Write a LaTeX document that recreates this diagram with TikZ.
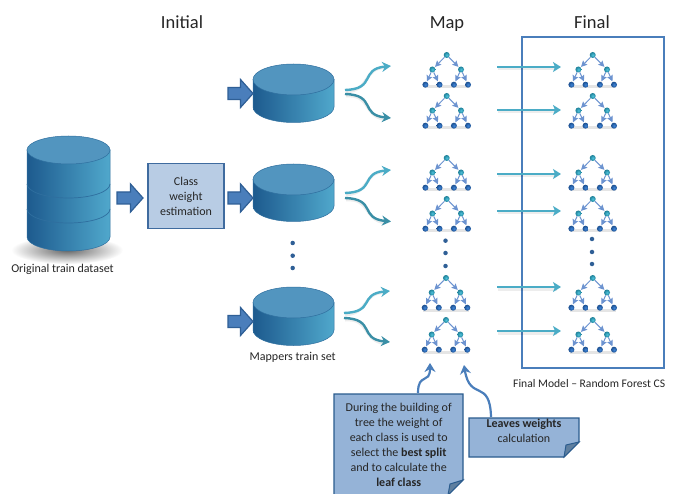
\documentclass[tikz,border=0pt]{standalone}
\usepackage{fontspec}
\setmainfont{Carlito}
\usetikzlibrary{arrows.meta,calc}
\definecolor{cylL}{HTML}{1D5A8E}
\definecolor{cylR}{HTML}{50A8CC}
\definecolor{cylT}{HTML}{5295BF}
\definecolor{cylE}{HTML}{2F6F9F}
\definecolor{blk}{HTML}{4A7EBB}
\definecolor{blkE}{HTML}{2F5F96}
\definecolor{boxF}{HTML}{B8CCE4}
\definecolor{noteF}{HTML}{95B3D7}
\definecolor{noteE}{HTML}{2B5C8E}
\definecolor{foldF}{HTML}{5F7F9F}
\definecolor{curA}{HTML}{4BACC6}
\definecolor{curB}{HTML}{3A8FA6}
\definecolor{treeE}{HTML}{6C93D0}
\definecolor{txt}{HTML}{262626}
\definecolor{rootI}{HTML}{4FC3DC}
\definecolor{rootO}{HTML}{1F8199}
\definecolor{leafI}{HTML}{3F86DA}
\definecolor{leafO}{HTML}{1C4F8F}
\tikzset{
  txtn/.style={inner sep=0pt,text=txt,font=\fontsize{12}{15}\selectfont,align=center},
  headn/.style={inner sep=0pt,text=txt,font=\fontsize{18.5}{22}\selectfont,anchor=base},
  rootn/.style={circle,inner sep=0pt,minimum size=6pt,inner color=rootI,outer color=rootO},
  leafn/.style={circle,inner sep=0pt,minimum size=6pt,inner color=leafI,outer color=leafO},
  tedge/.style={treeE,line width=1pt,shorten >=.5pt,-{Stealth[length=6pt,width=6pt,inset=1pt]}},
  dotn/.style={circle,inner sep=0pt,minimum size=4.5pt,fill=blkE},
  blockarrow/.style={draw=blkE,fill=blk,line width=1.2pt,line join=miter},
  softline/.style={black,opacity=.07,line width=3pt},
  cura/.style={curA,line width=2.4pt,-{Stealth[length=9pt,width=10pt,inset=3pt]}},
  curb/.style={curB,line width=2.4pt,-{Stealth[length=9pt,width=10pt,inset=3pt]}},
  straighta/.style={curA,line width=2.4pt,-{Stealth[length=8pt,width=10pt,inset=2pt]}},
  notecall/.style={blk,line width=2.2pt,-{Stealth[length=9pt,width=11pt,inset=3pt]}},
  notebody/.style={draw=noteE,fill=noteF,line width=1.2pt},
  foldp/.style={draw=noteE,fill=foldF,line width=1pt},
}
% \treeat{name}{x}{y of root}
\newcommand{\treeat}[3]{%
  \draw[black,opacity=.10,line width=3pt] (#2-23,#3+32) -- (#2+23,#3+32);
  \node[rootn] (#1-r) at (#2,#3) {};
  \node[rootn] (#1-a) at (#2-14.3,#3+14.5) {};
  \node[rootn] (#1-b) at (#2+14.3,#3+14.5) {};
  \node[leafn] (#1-1) at (#2-21.3,#3+29.7) {};
  \node[leafn] (#1-2) at (#2-7.2,#3+29.7) {};
  \node[leafn] (#1-3) at (#2+7.2,#3+29.7) {};
  \node[leafn] (#1-4) at (#2+21.3,#3+29.7) {};
  \draw[tedge] (#1-r) -- (#1-a);
  \draw[tedge] (#1-r) -- (#1-b);
  \draw[tedge] (#1-a) -- (#1-1);
  \draw[tedge] (#1-a) -- (#1-2);
  \draw[tedge] (#1-b) -- (#1-3);
  \draw[tedge] (#1-b) -- (#1-4);
}
% \cylat{name}{left}{right}{top centre y}{bottom centre y}{ry}
\newcommand{\cylat}[6]{%
  \pgfmathsetmacro{\rx}{(#3-#2)/2}%
  \path[left color=cylL,right color=cylR,draw=cylE,line width=.5pt]
    (#2,#4) -- (#2,#5) arc[start angle=180,end angle=360,x radius=\rx pt,y radius=#6 pt]
    -- (#3,#4) -- cycle;
  \path[fill=cylT,draw=cylE,line width=.5pt] ({(#2+#3)/2},#4) ellipse[x radius=\rx pt,y radius=#6 pt];
}
% \blockat{tip coordinate name}{tip x}{centre y}{length}
\newcommand{\blockat}[4]{%
  \coordinate (#1) at (#2,#3);
  \draw[blockarrow] (#1) -- ++(-12.5,14) -- ++(0,-8) -- ++({-#4+12.5},0) -- ++(0,-12) -- ++({#4-12.5},0) -- ++(0,-8) -- cycle;
}
% \curvepair{start upper}{start lower}{end upper}{end lower}
\newcommand{\curvepair}[4]{%
  \draw[softline] ($(#1)+(1,2)$) .. controls ($(#1)+(26,0)$) and ($(#3)+(-28,2)$) .. ($(#3)+(-6,1.5)$);
  \draw[softline] ($(#2)+(1,2)$) .. controls ($(#2)+(26,0)$) and ($(#4)+(-28,-2)$) .. ($(#4)+(-6,1.5)$);
  \draw[cura] (#1) .. controls ($(#1)+(32,-1)$) and ($(#3)+(-32,3)$) .. (#3);
  \draw[curb] (#2) .. controls ($(#2)+(32,1)$) and ($(#4)+(-32,-3)$) .. (#4);
}
\begin{document}
\begin{tikzpicture}[x=1pt,y=-1pt]
\useasboundingbox (0,0) rectangle (674,494);
\fill[white] (0,0) rectangle (674,494);

\node[headn] (hinit) at (182,29) {Initial};
\node[headn] (hmap) at (447,29) {Map};
\node[headn] (hfinal) at (592,29) {Final};

% big cylinder
\shade[inner color=black!60,outer color=white] (67,250) ellipse[x radius=56pt,y radius=14pt];
\cylat{big}{27}{110}{150}{237}{14}
\draw[cylE,line width=.7pt] (27,184) arc[start angle=180,end angle=360,x radius=41.5pt,y radius=14pt];
\draw[cylE,line width=.7pt] (27,209) arc[start angle=180,end angle=360,x radius=41.5pt,y radius=14pt];
\node[txtn] (ltrain) at (62.5,269.5) {Original train dataset};

\blockat{ba0}{143}{198}{26}
\node[draw=blk!85!black,fill=boxF,line width=1.5pt,minimum width=76pt,minimum height=65pt,inner sep=0pt,txtn] (cw) at (186,196) {Class\\weight\\estimation};

% small cylinders and arrows
\cylat{c1}{253}{334}{79.5}{107}{15.5}
\cylat{c2}{253}{334}{179.5}{206}{15.5}
\cylat{c3}{253}{334}{302.5}{330}{15.5}
\blockat{ba1}{253}{93.5}{25}
\blockat{ba2}{253}{198}{25}
\blockat{ba3}{253}{321.5}{25}
\node[dotn] (d1) at (292.7,243) {};
\node[dotn] (d2) at (292.7,255.7) {};
\node[dotn] (d3) at (292.7,268) {};
\node[txtn] (lmap) at (292.7,357.5) {Mappers train set};

% trees
\treeat{m1}{446.7}{55}
\treeat{m2}{446.7}{96}
\treeat{m3}{446.7}{158}
\treeat{m4}{446.7}{199}
\treeat{m5}{446}{278}
\treeat{m6}{446}{320}
\treeat{f1}{592.7}{55}
\treeat{f2}{592.7}{96}
\treeat{f3}{592.7}{158}
\treeat{f4}{592.7}{199}
\treeat{f5}{592.7}{278}
\treeat{f6}{592.7}{320}
\node[dotn] (mda) at (445.5,240.7) {};
\node[dotn] (mdb) at (445.5,253) {};
\node[dotn] (mdc) at (445.5,266) {};
\node[dotn] (fda) at (592,239) {};
\node[dotn] (fdb) at (592,252) {};
\node[dotn] (fdc) at (592,264) {};

% curved arrows
\coordinate (s1u) at (345,90);   \coordinate (s1l) at (345,94);
\coordinate (e1u) at (391,66);   \coordinate (e1l) at (391,118);
\coordinate (s2u) at (345,193);  \coordinate (s2l) at (345,198);
\coordinate (e2u) at (391,170);  \coordinate (e2l) at (391,221.5);
\coordinate (s3u) at (344,313);  \coordinate (s3l) at (344,318);
\coordinate (e3u) at (390,291);  \coordinate (e3l) at (390,342);
\curvepair{s1u}{s1l}{e1u}{e1l}
\curvepair{s2u}{s2l}{e2u}{e2l}
\curvepair{s3u}{s3l}{e3u}{e3l}

% final frame
\node[draw=blk,line width=1.5pt,minimum width=142pt,minimum height=331pt,inner sep=0pt] (frame) at (593,202.5) {};

% map to final
\foreach \n/\yy in {1/67,2/110,3/174,4/211,5/287,6/331}{
  \coordinate (ao\n) at (497,\yy);
  \coordinate (ai\n) at (561,\yy);
  \draw[softline] ($(ao\n)+(1,2)$) -- ($(ai\n)+(-4,2)$);
  \draw[straighta] (ao\n) -- (ai\n);
}
\begin{scope}
\clip (500,370) rectangle (665,400);
\node[txtn,anchor=west,font=\fontsize{11.6}{14}\selectfont] (lfinal) at (513,384) {Final Model – Random Forest CS};
\end{scope}

% notes
\draw[notebody] (334,394) -- (463,394) -- (463,480) -- (448,495) -- (334,495) -- cycle;
\draw[foldp] (463,480) -- (450,484) -- (448,495) -- cycle;
\node[txtn] (n1) at (398.7,445) {During the building of\\tree the weight of\\each class is used to\\select the \textbf{best split}\\and to calculate the\\\textbf{leaf class}};
\draw[notebody] (469,418) -- (579,418) -- (579,442) -- (564,457) -- (469,457) -- cycle;
\draw[foldp] (579,442) -- (566,445) -- (564,457) -- cycle;
\node[txtn] (n2) at (524,430.5) {\textbf{Leaves weights}\\calculation};
\coordinate (t1) at (430,363);
\coordinate (t2) at (464,365);
\coordinate (s1) at (418,393);
\coordinate (s2) at (491,417);
\draw[notecall] (s1) .. controls (418,372) and (430,385) .. (t1);
\draw[notecall] (s2) .. controls (490,378) and (470,402) .. (t2);
\end{tikzpicture}
\end{document}
